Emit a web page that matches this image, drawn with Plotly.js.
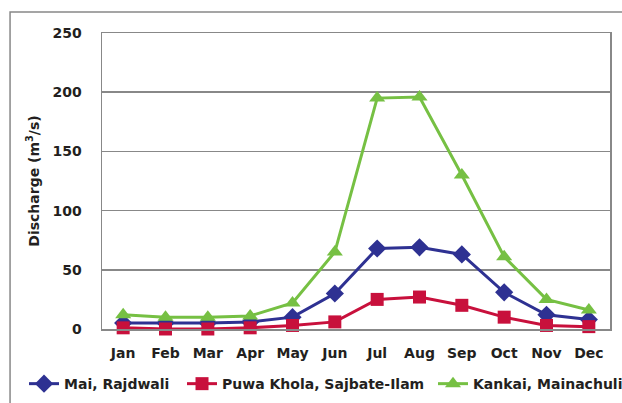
<!DOCTYPE html>
<html>
<head>
<meta charset="utf-8">
<script src="https://cdn.plot.ly/plotly-3.0.1.min.js"></script>
<style>
html,body{margin:0;padding:0;overflow:hidden;background:#fff;width:622px;height:403px;}
#chart{width:650px;height:403px;}
</style>
</head>
<body>
<div id="chart"></div>
<script>
const months = ["Jan","Feb","Mar","Apr","May","Jun","Jul","Aug","Sep","Oct","Nov","Dec"];
const maiRajdwali = [5, 5, 5, 6, 10, 30, 68, 69, 63, 31, 12, 8];
const puwaKhola = [1, 0, 0, 1, 3, 6, 25, 27, 20, 10, 3, 2];
const kankaiMainachuli = [12, 10, 10, 11, 22, 65, 195, 196, 130, 61, 25, 16];
const seriesNames = ["Mai, Rajdwali", "Puwa Khola, Sajbate-Ilam", "Kankai, Mainachuli"];
const yTicks = [0, 50, 100, 150, 200, 250];

const FONT = "'DejaVu Sans', sans-serif";
const traces = [
  {x: months, y: maiRajdwali, name: seriesNames[0], type: "scatter", mode: "lines+markers", legend: "legend",
   line: {color: "#2e3192", width: 3}, marker: {symbol: "diamond", size: 14, color: "#2e3192"}, cliponaxis: false},
  {x: months, y: puwaKhola, name: seriesNames[1], type: "scatter", mode: "lines+markers", legend: "legend2",
   line: {color: "#c8103c", width: 3}, marker: {symbol: "square", size: 13, color: "#c8103c"}, cliponaxis: false},
  {x: months, y: kankaiMainachuli, name: seriesNames[2], type: "scatter", mode: "lines+markers", legend: "legend3",
   line: {color: "#76c043", width: 3}, marker: {symbol: "triangle-up", size: 14, color: "#76c043"}, cliponaxis: false}
];

const legendFont = {family: FONT, size: 14, color: "#231f20", weight: "bold"};
function legendAt(x) {
  return {orientation: "h", x: x, xanchor: "left", y: -0.186, yanchor: "middle",
          font: legendFont, itemwidth: 30, bgcolor: "rgba(0,0,0,0)"};
}

const layout = {
  width: 650, height: 403,
  margin: {l: 102, r: 40, t: 33, b: 74, autoexpand: false},
  paper_bgcolor: "#fff", plot_bgcolor: "#fff",
  font: {family: FONT, color: "#231f20"},
  showlegend: true,
  legend: legendAt(-0.1535),
  legend2: legendAt(0.1575),
  legend3: legendAt(0.6516),
  xaxis: {
    type: "category", categoryarray: months, range: [-0.5, 11.5],
    showline: true, linecolor: "#888", linewidth: 1.5, mirror: true,
    showgrid: false, ticks: "outside", ticklen: 11, tickcolor: "rgba(0,0,0,0)",
    tickfont: {family: FONT, size: 14, color: "#231f20", weight: "bold"}
  },
  yaxis: {
    range: [0, 250], tickvals: yTicks, ticktext: yTicks.map(String),
    showline: true, linecolor: "#888", linewidth: 1.5, mirror: true,
    showgrid: true, gridcolor: "#888", gridwidth: 1.5, zeroline: false,
    ticks: "outside", ticklen: 16, tickcolor: "rgba(0,0,0,0)",
    tickfont: {family: FONT, size: 14, color: "#231f20", weight: "bold"},
    title: {text: "Discharge (m<sup>3</sup>/s)", standoff: 9,
            font: {family: FONT, size: 14, color: "#231f20", weight: "bold"}}
  },
  shapes: [
    {type: "rect", xref: "paper", yref: "paper", x0: -0.181, x1: 1.3, y0: -0.5, y1: 1.071,
     line: {color: "#888", width: 1.5}, fillcolor: "rgba(0,0,0,0)", layer: "below"}
  ]
};

Plotly.newPlot("chart", traces, layout, {displayModeBar: false, staticPlot: true});
</script>
</body>
</html>
